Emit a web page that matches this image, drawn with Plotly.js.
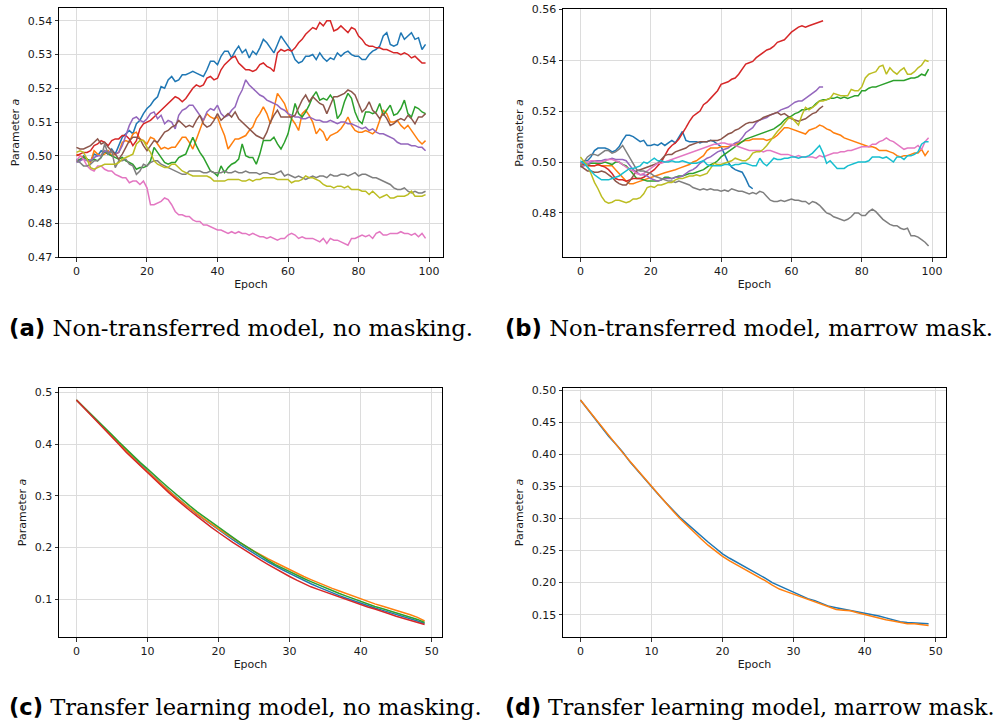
<!DOCTYPE html>
<html>
<head>
<meta charset="utf-8">
<script src="https://cdn.plot.ly/plotly-3.0.1.min.js"></script>
<style>
  html, body { margin: 0; padding: 0; background: #ffffff; }
  #fig { width: 998px; height: 725px; }
</style>
</head>
<body>
<div id="fig"></div>
<script>
// ---------------------------------------------------------------
// Parameter a per epoch, one array per run (tab10 colour order).
// (a) Non-transferred model, no masking
// ---------------------------------------------------------------
const aRun0 = [0.4990,0.4985,0.5000,0.4990,0.4985,0.5005,0.5000,0.5015,0.5010,0.5005,0.5020,0.5005,0.5030,0.5055,0.5065,0.5075,0.5065,0.5095,0.5105,0.5125,0.5140,0.5150,0.5165,0.5175,0.5205,0.5200,0.5225,0.5235,0.5220,0.5225,0.5240,0.5240,0.5245,0.5250,0.5245,0.5240,0.5235,0.5255,0.5280,0.5280,0.5270,0.5295,0.5310,0.5310,0.5290,0.5310,0.5325,0.5305,0.5315,0.5290,0.5310,0.5300,0.5320,0.5345,0.5335,0.5320,0.5305,0.5330,0.5355,0.5340,0.5325,0.5310,0.5285,0.5275,0.5280,0.5295,0.5295,0.5300,0.5285,0.5305,0.5290,0.5280,0.5290,0.5285,0.5305,0.5295,0.5305,0.5310,0.5300,0.5295,0.5295,0.5285,0.5285,0.5300,0.5310,0.5315,0.5325,0.5355,0.5365,0.5330,0.5325,0.5330,0.5365,0.5345,0.5355,0.5365,0.5345,0.5350,0.5315,0.5330];
const aRun1 = [0.5005,0.5000,0.4995,0.4990,0.4980,0.5015,0.5005,0.5000,0.5005,0.5015,0.5000,0.5005,0.5010,0.5040,0.5045,0.5040,0.5065,0.5070,0.5050,0.5045,0.5035,0.5055,0.5050,0.5035,0.5020,0.5025,0.5020,0.5025,0.5025,0.5040,0.5055,0.5055,0.5040,0.5020,0.5050,0.5075,0.5105,0.5125,0.5115,0.5110,0.5115,0.5085,0.5060,0.5020,0.5035,0.5050,0.5050,0.5055,0.5060,0.5075,0.5085,0.5110,0.5125,0.5145,0.5125,0.5095,0.5140,0.5185,0.5170,0.5155,0.5125,0.5110,0.5095,0.5075,0.5125,0.5135,0.5120,0.5100,0.5065,0.5080,0.5070,0.5045,0.5060,0.5065,0.5070,0.5080,0.5095,0.5115,0.5090,0.5075,0.5070,0.5070,0.5075,0.5070,0.5065,0.5075,0.5105,0.5135,0.5125,0.5100,0.5100,0.5105,0.5090,0.5080,0.5090,0.5075,0.5060,0.5045,0.5035,0.5045];
const aRun2 = [0.4985,0.4990,0.4995,0.4990,0.4985,0.4990,0.4985,0.4995,0.5015,0.5005,0.5000,0.4995,0.4990,0.4995,0.4985,0.4980,0.4975,0.4960,0.4965,0.4965,0.4970,0.4985,0.5025,0.5010,0.4995,0.4980,0.4975,0.4980,0.4980,0.4995,0.5000,0.5005,0.5030,0.5055,0.5030,0.5010,0.4995,0.4975,0.4955,0.4950,0.4940,0.4970,0.4950,0.4965,0.4975,0.4980,0.4990,0.5035,0.5000,0.4995,0.4995,0.4975,0.5005,0.5045,0.5045,0.5045,0.5055,0.5035,0.5020,0.5040,0.5065,0.5115,0.5155,0.5125,0.5115,0.5130,0.5150,0.5175,0.5190,0.5165,0.5170,0.5165,0.5180,0.5165,0.5110,0.5125,0.5160,0.5185,0.5170,0.5130,0.5105,0.5095,0.5130,0.5130,0.5125,0.5130,0.5155,0.5120,0.5135,0.5150,0.5120,0.5125,0.5140,0.5165,0.5125,0.5115,0.5145,0.5140,0.5130,0.5125];
const aRun3 = [0.5000,0.5005,0.5010,0.5010,0.5015,0.5030,0.5035,0.5045,0.5040,0.5030,0.5045,0.5050,0.5050,0.5060,0.5060,0.5050,0.5030,0.5045,0.5080,0.5095,0.5100,0.5105,0.5115,0.5125,0.5135,0.5145,0.5155,0.5165,0.5175,0.5170,0.5160,0.5170,0.5185,0.5200,0.5210,0.5205,0.5210,0.5230,0.5235,0.5225,0.5230,0.5255,0.5270,0.5280,0.5290,0.5295,0.5275,0.5265,0.5255,0.5255,0.5250,0.5255,0.5270,0.5275,0.5265,0.5260,0.5250,0.5305,0.5315,0.5310,0.5315,0.5310,0.5320,0.5335,0.5345,0.5360,0.5370,0.5380,0.5375,0.5395,0.5385,0.5400,0.5400,0.5370,0.5375,0.5385,0.5375,0.5365,0.5380,0.5375,0.5355,0.5345,0.5330,0.5325,0.5325,0.5320,0.5320,0.5315,0.5315,0.5310,0.5305,0.5305,0.5300,0.5305,0.5300,0.5290,0.5295,0.5285,0.5275,0.5275];
const aRun4 = [0.4980,0.4985,0.4990,0.4985,0.4985,0.4995,0.5000,0.5000,0.5015,0.5010,0.5015,0.5005,0.5010,0.5030,0.5060,0.5090,0.5110,0.5115,0.5105,0.5100,0.5110,0.5125,0.5130,0.5110,0.5120,0.5095,0.5105,0.5100,0.5080,0.5120,0.5135,0.5140,0.5150,0.5150,0.5135,0.5120,0.5105,0.5130,0.5140,0.5135,0.5150,0.5125,0.5115,0.5120,0.5135,0.5145,0.5175,0.5195,0.5225,0.5210,0.5200,0.5190,0.5180,0.5175,0.5165,0.5160,0.5155,0.5150,0.5140,0.5135,0.5125,0.5120,0.5115,0.5115,0.5110,0.5110,0.5115,0.5110,0.5105,0.5105,0.5100,0.5100,0.5105,0.5100,0.5095,0.5100,0.5100,0.5095,0.5095,0.5090,0.5085,0.5080,0.5085,0.5075,0.5080,0.5070,0.5065,0.5065,0.5060,0.5055,0.5050,0.5040,0.5035,0.5035,0.5035,0.5030,0.5030,0.5025,0.5025,0.5015];
const aRun5 = [0.5025,0.5020,0.5020,0.5025,0.5030,0.5040,0.5050,0.5035,0.5040,0.5025,0.5015,0.5005,0.4990,0.5005,0.5025,0.5045,0.5055,0.5055,0.5050,0.5030,0.5015,0.5030,0.5045,0.5040,0.5055,0.5070,0.5075,0.5085,0.5090,0.5105,0.5095,0.5085,0.5090,0.5085,0.5105,0.5120,0.5095,0.5085,0.5090,0.5105,0.5125,0.5105,0.5115,0.5125,0.5115,0.5130,0.5110,0.5100,0.5090,0.5080,0.5070,0.5060,0.5055,0.5050,0.5070,0.5100,0.5120,0.5135,0.5115,0.5115,0.5115,0.5115,0.5120,0.5145,0.5165,0.5180,0.5160,0.5175,0.5165,0.5155,0.5150,0.5125,0.5150,0.5175,0.5175,0.5180,0.5185,0.5195,0.5190,0.5180,0.5155,0.5130,0.5140,0.5160,0.5135,0.5125,0.5110,0.5125,0.5110,0.5090,0.5095,0.5105,0.5110,0.5105,0.5120,0.5110,0.5095,0.5115,0.5115,0.5125];
const aRun6 = [0.4985,0.5000,0.4990,0.4970,0.4960,0.4955,0.4970,0.4970,0.4960,0.4955,0.4955,0.4945,0.4940,0.4935,0.4935,0.4920,0.4925,0.4925,0.4915,0.4925,0.4905,0.4855,0.4855,0.4860,0.4865,0.4875,0.4870,0.4855,0.4835,0.4825,0.4825,0.4820,0.4820,0.4810,0.4805,0.4805,0.4795,0.4795,0.4790,0.4785,0.4780,0.4780,0.4775,0.4770,0.4775,0.4770,0.4775,0.4770,0.4770,0.4765,0.4770,0.4765,0.4760,0.4760,0.4755,0.4760,0.4755,0.4750,0.4755,0.4755,0.4765,0.4770,0.4765,0.4755,0.4760,0.4755,0.4755,0.4755,0.4750,0.4745,0.4755,0.4740,0.4755,0.4750,0.4750,0.4745,0.4740,0.4735,0.4755,0.4755,0.4760,0.4765,0.4760,0.4765,0.4755,0.4770,0.4775,0.4765,0.4765,0.4770,0.4770,0.4770,0.4775,0.4770,0.4770,0.4765,0.4770,0.4760,0.4770,0.4755];
const aRun7 = [0.4985,0.4980,0.4970,0.4970,0.4975,0.4985,0.4985,0.4995,0.5035,0.5005,0.5015,0.4965,0.4985,0.4985,0.4990,0.4975,0.4970,0.4945,0.4955,0.4975,0.4970,0.4980,0.4985,0.4985,0.4975,0.4970,0.4965,0.4960,0.4955,0.4950,0.4945,0.4945,0.4955,0.4955,0.4955,0.4955,0.4950,0.4950,0.4955,0.4950,0.4950,0.4950,0.4955,0.4950,0.4950,0.4955,0.4950,0.4950,0.4955,0.4950,0.4950,0.4950,0.4945,0.4950,0.4950,0.4945,0.4945,0.4950,0.4955,0.4940,0.4945,0.4940,0.4935,0.4940,0.4935,0.4930,0.4935,0.4940,0.4935,0.4940,0.4940,0.4935,0.4945,0.4940,0.4940,0.4945,0.4945,0.4940,0.4945,0.4950,0.4940,0.4945,0.4945,0.4940,0.4935,0.4935,0.4930,0.4925,0.4920,0.4915,0.4905,0.4900,0.4900,0.4905,0.4895,0.4890,0.4895,0.4890,0.4890,0.4895];
const aRun8 = [0.5010,0.5015,0.5010,0.4990,0.4965,0.4960,0.4965,0.4970,0.4975,0.4975,0.4975,0.4975,0.4980,0.4990,0.4995,0.5000,0.5005,0.5035,0.5045,0.5045,0.5025,0.5010,0.4985,0.4975,0.4970,0.4965,0.4965,0.4975,0.4975,0.4965,0.4955,0.4950,0.4945,0.4940,0.4940,0.4940,0.4940,0.4940,0.4935,0.4925,0.4925,0.4925,0.4925,0.4930,0.4930,0.4930,0.4930,0.4925,0.4925,0.4930,0.4925,0.4930,0.4930,0.4935,0.4935,0.4935,0.4935,0.4930,0.4930,0.4930,0.4930,0.4920,0.4925,0.4925,0.4930,0.4940,0.4935,0.4935,0.4930,0.4925,0.4915,0.4910,0.4910,0.4905,0.4910,0.4910,0.4905,0.4910,0.4900,0.4900,0.4900,0.4895,0.4895,0.4885,0.4895,0.4885,0.4875,0.4880,0.4885,0.4875,0.4875,0.4880,0.4880,0.4880,0.4885,0.4895,0.4880,0.4880,0.4880,0.4885];

// ---------------------------------------------------------------
// (b) Non-transferred model, marrow mask (some runs stop early)
// ---------------------------------------------------------------
const bRun0 = [0.4995,0.5005,0.5005,0.5020,0.5045,0.5055,0.5055,0.5055,0.5050,0.5040,0.5045,0.5060,0.5085,0.5105,0.5105,0.5100,0.5090,0.5080,0.5085,0.5065,0.5065,0.5070,0.5065,0.5075,0.5065,0.5075,0.5085,0.5075,0.5095,0.5120,0.5085,0.5080,0.5080,0.5080,0.5075,0.5080,0.5080,0.5085,0.5080,0.5070,0.5060,0.5030,0.5000,0.4980,0.4970,0.4965,0.4960,0.4935,0.4905,0.4895];
const bRun1 = [0.4985,0.4990,0.4990,0.4985,0.4985,0.4990,0.4985,0.4985,0.4985,0.4985,0.4970,0.4955,0.4940,0.4925,0.4915,0.4915,0.4920,0.4925,0.4930,0.4935,0.4940,0.4945,0.4950,0.4955,0.4958,0.4962,0.4965,0.4970,0.4975,0.4980,0.4985,0.4990,0.5000,0.5005,0.5015,0.5025,0.5045,0.5055,0.5055,0.5055,0.5060,0.5060,0.5060,0.5065,0.5070,0.5075,0.5080,0.5085,0.5085,0.5090,0.5090,0.5090,0.5090,0.5085,0.5090,0.5095,0.5105,0.5120,0.5135,0.5135,0.5130,0.5125,0.5120,0.5115,0.5110,0.5125,0.5130,0.5135,0.5145,0.5140,0.5130,0.5125,0.5115,0.5110,0.5105,0.5095,0.5090,0.5085,0.5080,0.5075,0.5070,0.5065,0.5060,0.5060,0.5055,0.5045,0.5045,0.5045,0.5040,0.5035,0.5025,0.5020,0.5025,0.5025,0.5030,0.5035,0.5035,0.5050,0.5025,0.5045];
const bRun2 = [0.4990,0.4995,0.4990,0.4995,0.4995,0.4995,0.4995,0.5000,0.4995,0.4990,0.5000,0.5000,0.4990,0.4985,0.4970,0.4950,0.4935,0.4935,0.4930,0.4925,0.4925,0.4925,0.4925,0.4930,0.4940,0.4940,0.4935,0.4940,0.4945,0.4945,0.4950,0.4955,0.4955,0.4960,0.4965,0.4970,0.4980,0.4990,0.4995,0.5005,0.5020,0.5030,0.5040,0.5050,0.5060,0.5070,0.5080,0.5090,0.5095,0.5100,0.5105,0.5110,0.5115,0.5120,0.5125,0.5130,0.5140,0.5150,0.5165,0.5175,0.5180,0.5190,0.5195,0.5205,0.5205,0.5210,0.5215,0.5230,0.5240,0.5245,0.5245,0.5250,0.5250,0.5255,0.5250,0.5255,0.5250,0.5255,0.5260,0.5260,0.5280,0.5280,0.5290,0.5295,0.5295,0.5300,0.5305,0.5310,0.5315,0.5320,0.5320,0.5320,0.5320,0.5325,0.5330,0.5330,0.5335,0.5345,0.5340,0.5365];
const bRun3 = [0.4995,0.4990,0.4985,0.4985,0.4985,0.4990,0.4985,0.4980,0.4970,0.4955,0.4935,0.4930,0.4930,0.4925,0.4930,0.4935,0.4935,0.4935,0.4940,0.4950,0.4960,0.4970,0.4985,0.5000,0.5025,0.5050,0.5065,0.5075,0.5090,0.5110,0.5135,0.5160,0.5180,0.5190,0.5200,0.5225,0.5235,0.5250,0.5265,0.5280,0.5305,0.5310,0.5315,0.5325,0.5330,0.5345,0.5365,0.5385,0.5390,0.5395,0.5410,0.5420,0.5430,0.5440,0.5445,0.5455,0.5470,0.5475,0.5480,0.5495,0.5510,0.5520,0.5530,0.5535,0.5530,0.5535,0.5540,0.5545,0.5550,0.5555];
const bRun4 = [0.4980,0.4985,0.4990,0.5000,0.5005,0.5005,0.5005,0.5010,0.5010,0.5015,0.5010,0.5010,0.5010,0.5005,0.4985,0.4970,0.4960,0.4950,0.4950,0.4945,0.4935,0.4930,0.4925,0.4930,0.4935,0.4935,0.4935,0.4940,0.4940,0.4945,0.4955,0.4965,0.4970,0.4980,0.4995,0.5005,0.5015,0.5020,0.5030,0.5040,0.5045,0.5050,0.5055,0.5065,0.5075,0.5080,0.5095,0.5115,0.5125,0.5135,0.5155,0.5165,0.5170,0.5175,0.5185,0.5190,0.5195,0.5205,0.5210,0.5215,0.5225,0.5235,0.5240,0.5240,0.5250,0.5260,0.5270,0.5280,0.5295,0.5295];
const bRun5 = [0.4985,0.4975,0.4965,0.4965,0.4960,0.4960,0.4965,0.4960,0.4950,0.4940,0.4925,0.4915,0.4910,0.4910,0.4925,0.4945,0.4965,0.4970,0.4975,0.4980,0.4985,0.4990,0.4995,0.5010,0.5025,0.5030,0.5030,0.5040,0.5045,0.5050,0.5055,0.5065,0.5070,0.5075,0.5080,0.5080,0.5080,0.5085,0.5085,0.5085,0.5090,0.5100,0.5110,0.5115,0.5125,0.5130,0.5140,0.5150,0.5155,0.5155,0.5160,0.5165,0.5175,0.5180,0.5185,0.5190,0.5195,0.5185,0.5190,0.5180,0.5170,0.5165,0.5160,0.5165,0.5170,0.5180,0.5190,0.5195,0.5210,0.5220];
const bRun6 = [0.4995,0.4995,0.5000,0.5005,0.5005,0.5000,0.5000,0.5005,0.5010,0.5010,0.5005,0.5000,0.4990,0.4980,0.4970,0.4965,0.4955,0.4950,0.4955,0.4965,0.4975,0.4985,0.4995,0.4995,0.5000,0.5005,0.5010,0.5015,0.5020,0.5025,0.5030,0.5035,0.5040,0.5045,0.5050,0.5055,0.5060,0.5065,0.5070,0.5070,0.5075,0.5075,0.5070,0.5070,0.5065,0.5060,0.5055,0.5050,0.5045,0.5045,0.5045,0.5045,0.5040,0.5045,0.5045,0.5040,0.5035,0.5030,0.5030,0.5030,0.5025,0.5020,0.5025,0.5020,0.5020,0.5020,0.5020,0.5015,0.5025,0.5020,0.5025,0.5030,0.5035,0.5035,0.5040,0.5040,0.5045,0.5045,0.5050,0.5055,0.5060,0.5060,0.5060,0.5070,0.5070,0.5080,0.5085,0.5095,0.5085,0.5080,0.5070,0.5060,0.5050,0.5055,0.5055,0.5055,0.5065,0.5050,0.5080,0.5095];
const bRun7 = [0.4985,0.5000,0.5020,0.5030,0.5030,0.5025,0.5035,0.5045,0.5045,0.5035,0.5040,0.5050,0.5065,0.5040,0.5015,0.4990,0.4970,0.4965,0.4965,0.4960,0.4955,0.4945,0.4940,0.4935,0.4930,0.4925,0.4925,0.4920,0.4925,0.4920,0.4915,0.4910,0.4900,0.4895,0.4890,0.4895,0.4890,0.4895,0.4890,0.4890,0.4885,0.4890,0.4885,0.4895,0.4890,0.4885,0.4885,0.4880,0.4875,0.4880,0.4875,0.4885,0.4880,0.4865,0.4850,0.4845,0.4845,0.4850,0.4845,0.4850,0.4855,0.4850,0.4850,0.4845,0.4845,0.4835,0.4845,0.4840,0.4830,0.4815,0.4800,0.4795,0.4785,0.4780,0.4775,0.4770,0.4775,0.4785,0.4800,0.4800,0.4790,0.4790,0.4805,0.4815,0.4805,0.4790,0.4775,0.4765,0.4755,0.4750,0.4750,0.4740,0.4735,0.4740,0.4710,0.4710,0.4705,0.4695,0.4685,0.4670];
const bRun8 = [0.5020,0.5000,0.4985,0.4955,0.4920,0.4895,0.4865,0.4845,0.4838,0.4842,0.4850,0.4850,0.4845,0.4840,0.4845,0.4855,0.4855,0.4860,0.4875,0.4900,0.4905,0.4900,0.4910,0.4910,0.4915,0.4920,0.4920,0.4930,0.4935,0.4935,0.4940,0.4945,0.4945,0.4950,0.4945,0.4950,0.4955,0.4975,0.4995,0.4990,0.4990,0.4995,0.5000,0.5005,0.5015,0.5010,0.5005,0.5005,0.5015,0.5035,0.5040,0.5040,0.5050,0.5065,0.5085,0.5105,0.5120,0.5135,0.5155,0.5170,0.5175,0.5160,0.5145,0.5185,0.5215,0.5205,0.5215,0.5225,0.5240,0.5240,0.5245,0.5250,0.5270,0.5265,0.5260,0.5260,0.5260,0.5285,0.5280,0.5280,0.5295,0.5330,0.5345,0.5350,0.5355,0.5375,0.5380,0.5345,0.5370,0.5355,0.5345,0.5360,0.5370,0.5345,0.5345,0.5355,0.5370,0.5380,0.5400,0.5395];
const bRun9 = [0.5005,0.4995,0.4980,0.4965,0.4950,0.4940,0.4930,0.4930,0.4930,0.4935,0.4940,0.4945,0.4955,0.4965,0.4975,0.4975,0.4980,0.4985,0.5000,0.4995,0.5005,0.5015,0.5005,0.5005,0.5000,0.5000,0.5005,0.5000,0.5000,0.5005,0.5000,0.4995,0.4995,0.4995,0.5000,0.5005,0.4990,0.4985,0.4985,0.4985,0.4985,0.4990,0.4990,0.4985,0.4990,0.4990,0.4995,0.4995,0.4990,0.4985,0.4985,0.5015,0.4995,0.4985,0.5000,0.5015,0.5010,0.5010,0.5015,0.5015,0.5020,0.5020,0.5015,0.5020,0.5020,0.5025,0.5035,0.5050,0.5065,0.5035,0.4995,0.5005,0.4990,0.4975,0.4975,0.4975,0.4985,0.4990,0.4995,0.5000,0.5000,0.5000,0.5005,0.5020,0.5020,0.5020,0.5015,0.5020,0.5010,0.5000,0.5020,0.5020,0.5010,0.5025,0.5025,0.5030,0.5040,0.5070,0.5080,0.5080];

// ---------------------------------------------------------------
// (c) Transfer learning model, no masking
// ---------------------------------------------------------------
const cRun0 = [0.485,0.472,0.458,0.444,0.430,0.416,0.401,0.387,0.373,0.361,0.348,0.335,0.322,0.310,0.298,0.286,0.275,0.264,0.254,0.244,0.234,0.224,0.215,0.206,0.197,0.188,0.180,0.172,0.164,0.157,0.150,0.143,0.136,0.130,0.124,0.118,0.113,0.107,0.102,0.097,0.092,0.088,0.083,0.079,0.075,0.070,0.066,0.062,0.058,0.053];
const cRun1 = [0.485,0.472,0.458,0.444,0.429,0.415,0.400,0.385,0.371,0.359,0.347,0.334,0.321,0.309,0.297,0.286,0.275,0.265,0.255,0.245,0.236,0.227,0.218,0.209,0.201,0.193,0.185,0.178,0.171,0.164,0.157,0.150,0.144,0.138,0.132,0.126,0.121,0.116,0.111,0.106,0.100,0.096,0.091,0.087,0.083,0.078,0.074,0.070,0.065,0.058];
const cRun2 = [0.485,0.472,0.459,0.446,0.432,0.418,0.404,0.390,0.376,0.364,0.352,0.339,0.327,0.315,0.303,0.291,0.280,0.269,0.259,0.249,0.239,0.229,0.220,0.210,0.201,0.192,0.183,0.175,0.167,0.160,0.153,0.146,0.140,0.134,0.128,0.122,0.117,0.111,0.106,0.101,0.095,0.091,0.086,0.082,0.078,0.073,0.069,0.065,0.061,0.055];
const cRun3 = [0.485,0.471,0.457,0.443,0.428,0.414,0.399,0.384,0.370,0.358,0.345,0.332,0.318,0.306,0.294,0.282,0.271,0.260,0.249,0.239,0.229,0.219,0.210,0.201,0.192,0.183,0.175,0.167,0.159,0.151,0.144,0.137,0.130,0.124,0.119,0.114,0.109,0.104,0.099,0.094,0.089,0.085,0.081,0.077,0.072,0.067,0.063,0.060,0.056,0.051];

// ---------------------------------------------------------------
// (d) Transfer learning model, marrow mask
// ---------------------------------------------------------------
const dRun0 = [0.485,0.471,0.457,0.443,0.428,0.416,0.403,0.388,0.375,0.362,0.350,0.337,0.325,0.313,0.302,0.292,0.282,0.272,0.263,0.254,0.245,0.238,0.232,0.226,0.220,0.213,0.207,0.200,0.195,0.190,0.184,0.179,0.175,0.172,0.167,0.163,0.161,0.159,0.157,0.155,0.152,0.150,0.148,0.145,0.142,0.139,0.138,0.137,0.136,0.136];
const dRun1 = [0.485,0.471,0.457,0.443,0.429,0.416,0.402,0.389,0.376,0.363,0.350,0.337,0.324,0.312,0.300,0.289,0.278,0.268,0.258,0.249,0.241,0.234,0.228,0.222,0.216,0.210,0.203,0.196,0.190,0.186,0.182,0.178,0.173,0.169,0.165,0.161,0.158,0.157,0.156,0.153,0.150,0.147,0.144,0.142,0.140,0.138,0.136,0.136,0.135,0.133];

// Tick values and caption texts
const xTicksLong  = [0, 20, 40, 60, 80, 100];
const xTicksShort = [0, 10, 20, 30, 40, 50];
const yTicksA = [0.47, 0.48, 0.49, 0.50, 0.51, 0.52, 0.53, 0.54];
const yTicksB = [0.48, 0.50, 0.52, 0.54, 0.56];
const yTicksC = [0.1, 0.2, 0.3, 0.4, 0.5];
const yTicksD = [0.15, 0.20, 0.25, 0.30, 0.35, 0.40, 0.45, 0.50];
const panelTags = ['(a)', '(b)', '(c)', '(d)'];
const panelCaptions = [
  'Non-transferred model, no masking.',
  'Non-transferred model, marrow mask.',
  'Transfer learning model, no masking.',
  'Transfer learning model, marrow mask.'
];

const tab10 = ['#1f77b4','#ff7f0e','#2ca02c','#d62728','#9467bd',
               '#8c564b','#e377c2','#7f7f7f','#bcbd22','#17becf'];

const W = 998, H = 725;

function runTraces(runs, xa, ya) {
  return runs.map((vals, i) => ({
    x: vals.map((_, e) => e),
    y: vals,
    mode: 'lines',
    line: { color: tab10[i], width: 1.5 },
    xaxis: xa, yaxis: ya,
    hoverinfo: 'skip',
    showlegend: false
  }));
}

const traces = [].concat(
  runTraces([aRun0,aRun1,aRun2,aRun3,aRun4,aRun5,aRun6,aRun7,aRun8], 'x', 'y'),
  runTraces([bRun0,bRun1,bRun2,bRun3,bRun4,bRun5,bRun6,bRun7,bRun8,bRun9], 'x2', 'y2'),
  runTraces([cRun0,cRun1,cRun2,cRun3], 'x3', 'y3'),
  runTraces([dRun0,dRun1], 'x4', 'y4')
);

const tickFont = { family: 'DejaVu Sans, sans-serif', size: 11, color: '#1a1a1a' };

function baseAxis(extra) {
  return Object.assign({
    showline: true, mirror: true, linecolor: '#000000', linewidth: 1,
    ticks: 'outside', ticklen: 3.5, tickwidth: 0.8, tickcolor: '#000000',
    showgrid: true, gridcolor: '#dcdcdc', gridwidth: 1,
    zeroline: false, automargin: false, fixedrange: true,
    tickfont: tickFont
  }, extra);
}

// pixel boxes [left, right, top, bottom] for the four plot areas
const boxes = [[59, 443, 8, 257], [563, 946, 9, 257], [59, 442, 388, 637], [563, 946, 388, 637]];
const xDom = b => [b[0] / W, b[1] / W];
const yDom = b => [1 - b[3] / H, 1 - b[2] / H];

function xAx(b, range, ticks, anchor) {
  return baseAxis({
    domain: xDom(b), range: range, tickmode: 'array', tickvals: ticks,
    anchor: anchor,
    title: { text: 'Epoch', font: { family: 'DejaVu Sans, sans-serif', size: 11, color: '#1a1a1a' }, standoff: 3 }
  });
}
function yAx(b, range, ticks, fmt, anchor) {
  return baseAxis({
    domain: yDom(b), range: range, tickmode: 'array', tickvals: ticks,
    ticktext: ticks.map(v => fmt(v)), anchor: anchor,
    title: { text: 'Parameter <i>a</i>', font: { family: 'DejaVu Sans, sans-serif', size: 11, color: '#1a1a1a' }, standoff: 5 }
  });
}
const f2 = v => v.toFixed(2);
const f1 = v => v.toFixed(1);

const captionY = [1 - 328 / H, 1 - 328 / H, 1 - 707 / H, 1 - 707 / H];
const captionX = [7 / W, 503 / W, 7 / W, 503 / W];
const captionSize = [22.8, 22.7, 22.6, 22.1];

const annotations = panelCaptions.map((txt, i) => ({
  xref: 'paper', yref: 'paper',
  x: captionX[i], y: captionY[i],
  xanchor: 'left', yanchor: 'middle',
  showarrow: false,
  text: '<span style="font-family:\'DejaVu Sans\';font-weight:bold">' + panelTags[i] + '</span> ' + txt,
  font: { family: 'DejaVu Serif, serif', size: captionSize[i], color: '#000000' }
}));

const layout = {
  width: W, height: H,
  margin: { l: 0, r: 0, t: 0, b: 0 },
  paper_bgcolor: '#ffffff', plot_bgcolor: '#ffffff',
  showlegend: false, hovermode: false,
  xaxis:  xAx(boxes[0], [-4.95, 103.95], xTicksLong, 'y'),
  yaxis:  yAx(boxes[0], [0.4700, 0.5438], yTicksA, f2, 'x'),
  xaxis2: xAx(boxes[1], [-4.95, 103.95], xTicksLong, 'y2'),
  yaxis2: yAx(boxes[1], [0.4627, 0.5601], yTicksB, f2, 'x2'),
  xaxis3: xAx(boxes[2], [-2.45, 51.45], xTicksShort, 'y3'),
  yaxis3: yAx(boxes[2], [0.0270, 0.5083], yTicksC, f1, 'x3'),
  xaxis4: xAx(boxes[3], [-2.45, 51.45], xTicksShort, 'y4'),
  yaxis4: yAx(boxes[3], [0.1152, 0.5036], yTicksD, f2, 'x4'),
  annotations: annotations
};

Plotly.newPlot('fig', traces, layout, { displayModeBar: false, staticPlot: true });
</script>
</body>
</html>
